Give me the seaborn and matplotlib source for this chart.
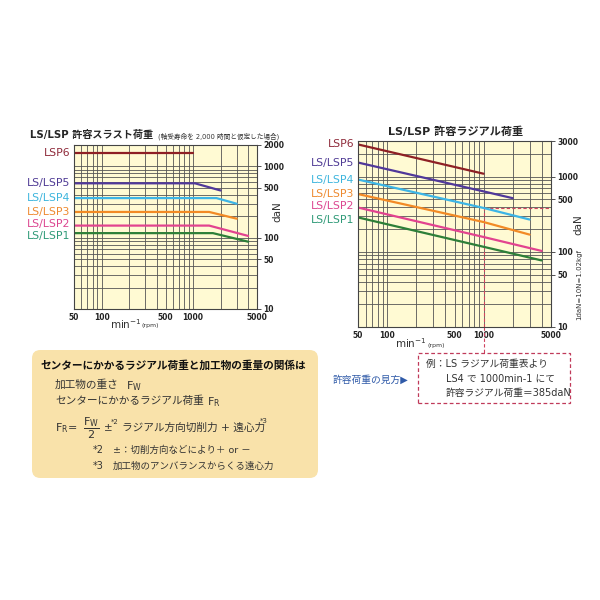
import matplotlib
matplotlib.use("Agg")
import pandas as pd
import matplotlib.pyplot as plt
import matplotlib.transforms as mtransforms
from matplotlib.patches import FancyBboxPatch, Rectangle
from matplotlib.ticker import NullFormatter
import seaborn as sns

# series names / colours
models = ["LSP6", "LS/LSP5", "LS/LSP4", "LS/LSP3", "LS/LSP2", "LS/LSP1"]
line_colors = ["#8e1f24", "#50389a", "#3db5e6", "#f28a25", "#e2438f", "#2d7f38"]
label_colors = ["#8e2a3a", "#4f3b95", "#3db5dd", "#ee8a30", "#dc4690", "#2f9a78"]

# 許容スラスト荷重 (daN) vs min-1
thrust_rpm = [[50, 1000], [50, 1050, 2000], [50, 1800, 3000],
              [50, 1500, 3000], [50, 1500, 4000], [50, 1650, 4000]]
thrust_load = [[1550, 1550], [580, 580, 460], [360, 360, 300],
               [230, 230, 185], [148, 148, 106], [116, 116, 88]]

# 許容ラジアル荷重 (daN) vs min-1
radial_rpm = [[50, 1000], [50, 1000, 2000], [50, 1000, 3000],
              [50, 1000, 3000], [50, 1000, 4000], [50, 1000, 4000]]
radial_load = [[2700, 1100], [1550, 640, 520], [920, 385, 270],
               [590, 250, 170], [390, 158, 103], [288, 117, 77]]

# example read-off (LS4 at 1000 min-1)
example_rpm = 1000
example_load = 385

x_ticks = [50, 100, 500, 1000, 5000]
x_grid = [60, 70, 80, 90, 200, 300, 400, 600, 700, 800, 900, 2000, 3000, 4000]
y_grid = [20, 30, 40, 60, 70, 80, 90, 200, 300, 400, 600, 700, 800, 900, 2000, 3000]
thrust_yticks = [10, 50, 100, 500, 1000, 2000]
radial_yticks = [10, 50, 100, 500, 1000, 3000]

BG = "#fffad3"
GRID = "#555555"

# small vertical nudges (points) so the two lowest labels do not collide
label_nudge = {"LS/LSP2": 1.0, "LS/LSP1": -2.0}


def to_frame(rpms, loads):
    rows = []
    for m, xs, ys in zip(models, rpms, loads):
        for x, y in zip(xs, ys):
            rows.append((m, x, y))
    return pd.DataFrame(rows, columns=["model", "rpm", "load"])


def draw_chart(ax, df, ytop, yticks):
    ax.set_facecolor(BG)
    ax.set_xscale("log")
    ax.set_yscale("log")
    sns.lineplot(data=df, x="rpm", y="load", hue="model", hue_order=models,
                 palette=dict(zip(models, line_colors)), estimator=None,
                 sort=False, legend=False, linewidth=1.6, ax=ax)
    ax.set_xlim(50, 5000)
    ax.set_ylim(10, ytop)
    ax.set_xticks(x_ticks, labels=[str(v) for v in x_ticks])
    ax.set_xticks(x_grid, minor=True)
    ax.xaxis.set_minor_formatter(NullFormatter())
    ax.set_yticks(yticks, labels=[str(v) for v in yticks])
    ax.set_yticks([v for v in y_grid if v < ytop], minor=True)
    ax.yaxis.set_minor_formatter(NullFormatter())
    ax.yaxis.tick_right()
    ax.grid(which="both", color=GRID, linewidth=0.6)
    ax.set_axisbelow(True)
    ax.tick_params(axis="x", which="both", length=0, pad=3,
                   labelsize=5.5, labelcolor="#222")
    ax.tick_params(axis="y", which="major", length=3, width=0.6, pad=1.5,
                   direction="out", labelsize=5.5, labelcolor="#222", color="#333")
    ax.tick_params(axis="y", which="minor", length=0)
    for lab in ax.get_xticklabels() + ax.get_yticklabels():
        lab.set_fontweight("bold")
    for s in ax.spines.values():
        s.set_color("#444")
        s.set_linewidth(0.8)
    ax.set_xlabel("")
    ax.set_ylabel("")
    # series labels to the left of the plot
    blend = mtransforms.blended_transform_factory(ax.transAxes, ax.transData)
    starts = df.groupby("model", sort=False)["load"].first()
    for name, c in zip(models, label_colors):
        tr = mtransforms.offset_copy(blend, fig=ax.figure, x=0, y=label_nudge.get(name, 0),
                                     units="points")
        ax.text(-0.02, starts[name], name, transform=tr, ha="right", va="center",
                color=c, fontsize=7.8, clip_on=False)


sns.set_theme(style="white")
plt.rcParams["font.family"] = ["DejaVu Sans", "Noto Sans CJK JP"]

fig = plt.figure(figsize=(6, 6), dpi=100)
fig.patch.set_facecolor("white")


def put(x, y, s, **kw):
    return fig.text(x / 600, 1 - y / 600, s, **kw)


# left chart: thrust
ax1 = fig.add_axes([74 / 600, 1 - 309 / 600, 183 / 600, 164 / 600])
draw_chart(ax1, to_frame(thrust_rpm, thrust_load), 2000, thrust_yticks)

# right chart: radial
ax2 = fig.add_axes([358 / 600, 1 - 327 / 600, 193 / 600, 186 / 600])
draw_chart(ax2, to_frame(radial_rpm, radial_load), 3000, radial_yticks)

dash_c = "#d0435f"
ax2.plot([example_rpm, example_rpm], [10, example_load], color=dash_c, lw=0.8,
         ls=(0, (3, 2)), zorder=1.5)
ax2.plot([example_rpm, 5000], [example_load, example_load], color=dash_c, lw=0.8,
         ls=(0, (3, 2)), zorder=1.5)
ax2.plot([example_rpm, example_rpm], [0, -26 / 186], transform=ax2.get_xaxis_transform(),
         color=dash_c, lw=0.8, ls=(0, (3, 2)), clip_on=False)

# titles
put(30, 135, "LS/LSP 許容スラスト荷重", fontsize=7.3, fontweight="bold", va="center")
put(158, 136, "(軸受寿命を 2,000 時間と仮定した場合)", fontsize=4.8, va="center", color="#333")
put(456, 132, "LS/LSP 許容ラジアル荷重", fontsize=8, fontweight="bold", va="center", ha="center")

# axis labels
put(110, 324, r"min$^{\mathregular{-1}}$", fontsize=7.5, va="center", color="#333")
put(142, 326, "(rpm)", fontsize=4.5, va="center", color="#333")
put(395, 343, r"min$^{\mathregular{-1}}$", fontsize=7.5, va="center", color="#333")
put(427, 345, "(rpm)", fontsize=4.5, va="center", color="#333")
put(277, 212, "daN", fontsize=7.5, rotation=90, va="center", ha="center", color="#333")
put(578, 225, "daN", fontsize=7.5, rotation=90, va="center", ha="center", color="#333")
put(579, 284, "1daN=10N=1.02kgf", fontsize=5, rotation=90, va="center", ha="center", color="#333")

# bottom-left explanation box
fig.add_artist(FancyBboxPatch((32 / 600, 1 - 478 / 600), 286 / 600, 128 / 600,
                              boxstyle="round,pad=0,rounding_size=0.014",
                              transform=fig.transFigure, fc="#f9e2aa", ec="none", zorder=0))
txt = "#333333"
put(40, 365, "センターにかかるラジアル荷重と加工物の重量の関係は", fontsize=7.7,
    fontweight="bold", va="center", color="#111")
put(55, 385, "加工物の重さ", fontsize=7.7, va="center", color=txt)
put(126, 386, r"F$_\mathregular{W}$", fontsize=8, va="center", color=txt)
put(55, 401, "センターにかかるラジアル荷重", fontsize=7.7, va="center", color=txt)
put(207, 402, r"F$_\mathregular{R}$", fontsize=8, va="center", color=txt)
put(55, 428, r"F$_\mathregular{R}$=", fontsize=8, va="center", color=txt)
put(91, 428, r"$\dfrac{\mathregular{F_W}}{\mathregular{2}}$", fontsize=8, va="center",
    ha="center", color=txt)
put(104, 428, "±", fontsize=7.5, va="center", color=txt)
put(111, 422, "*2", fontsize=5, va="center", color=txt)
put(122, 428, "ラジアル方向切削力 + 遠心力", fontsize=7.7, va="center", color=txt)
put(260, 421, "*3", fontsize=5, va="center", color=txt)
put(93, 450, "*2", fontsize=7, va="center", color=txt)
put(113, 450, "±：切削方向などにより＋ or －", fontsize=6.8, va="center", color=txt)
put(93, 466, "*3", fontsize=7, va="center", color=txt)
put(113, 466, "加工物のアンバランスからくる遠心力", fontsize=6.8, va="center", color=txt)

# how to read
put(333, 380, "許容荷重の見方▶", fontsize=7, va="center", color="#2f5aa8")
fig.add_artist(Rectangle((418 / 600, 1 - 403 / 600), 152 / 600, 50 / 600, fill=False,
                         ec="#c03a5a", lw=0.9, ls=(0, (3, 2)), transform=fig.transFigure))
put(426, 364, "例：LS ラジアル荷重表より", fontsize=7, va="center", color=txt)
put(446, 379, f"LS4 で {example_rpm}min-1 にて", fontsize=7, va="center", color=txt)
put(446, 393, f"許容ラジアル荷重＝{example_load}daN", fontsize=7, va="center", color=txt)

fig.savefig("out.png", dpi=100, facecolor="white")
